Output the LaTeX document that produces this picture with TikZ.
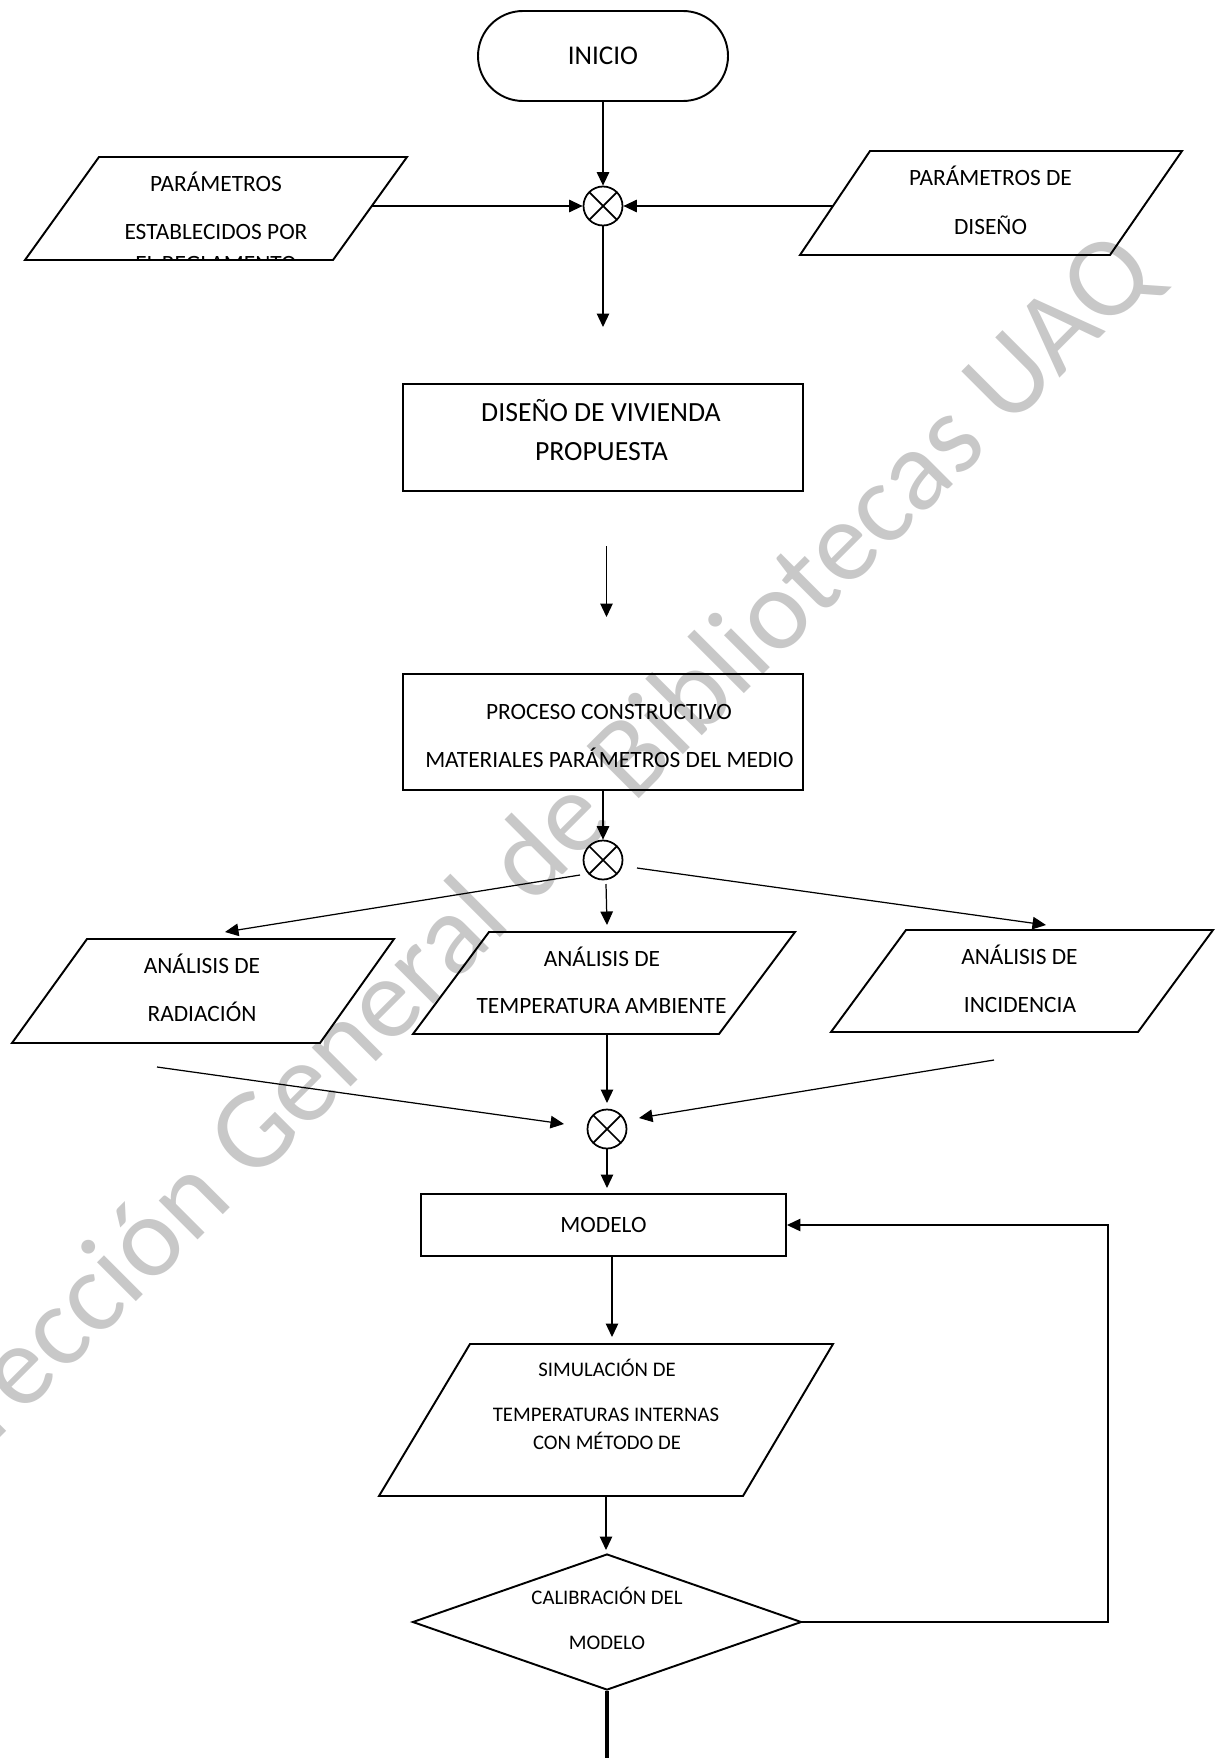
\documentclass[tikz,border=0pt]{standalone}
\usepackage{fontspec}
\setmainfont{Carlito}
\usetikzlibrary{arrows.meta, shapes.geometric}
\definecolor{wmgray}{RGB}{200,200,200}
\tikzset{
  box/.style={draw, line width=1.1pt, inner sep=0pt},
  outline/.style={line width=1.1pt},
  sumnode/.style={draw, circle, line width=1pt, minimum size=0.78cm, inner sep=0pt,
    path picture={\draw[line width=1pt] (path picture bounding box.north west) -- (path picture bounding box.south east)
      (path picture bounding box.north east) -- (path picture bounding box.south west);}},
  flow/.style={line width=0.7pt, -{Triangle[length=0.27cm,width=0.25cm]}},
  txt/.style={inner sep=0pt, font=\fontsize{13.3}{16}\selectfont, text height=8.6pt, text depth=0pt},
  txtsm/.style={inner sep=0pt, font=\fontsize{11.8}{14}\selectfont, text height=7.6pt, text depth=0pt},
  txtbig/.style={inner sep=0pt, font=\fontsize{15.8}{19}\selectfont, text height=10.2pt, text depth=0pt},
  wmark/.style={text=wmgray, inner sep=0pt, font=\fontsize{65.5}{78}\selectfont},
}

\begin{document}
\begin{tikzpicture}
\useasboundingbox (0,0) rectangle (24.56,-35.16);
\begin{scope}
\clip (0,0) rectangle (24.56,-35.16);
\node[wmark, rotate=45, anchor=base] (marca) at (10.86,-17.9) {Dirección General de Bibliotecas UAQ};
\end{scope}

\node[box, rounded corners=0.9cm, minimum width=5cm, minimum height=1.8cm, font=\fontsize{15.4}{18}\selectfont, text height=9.9pt, text depth=0pt] (inicio) at (12.06,-1.12) {INICIO};
\node[sumnode] (sum1) at (12.06,-4.12) {};
\draw[flow] (inicio) -- (sum1);

\draw[outline] (1.98,-3.14) -- (8.14,-3.14) -- (6.66,-5.2) -- (0.5,-5.2) -- cycle;
\begin{scope}
\clip (1.98,-3.14) -- (8.14,-3.14) -- (6.66,-5.2) -- (0.5,-5.2) -- cycle;
\node[txt] (regA) at (4.32,-3.68) {PARÁMETROS};
\node[txt] (regB) at (4.32,-4.64) {ESTABLECIDOS POR};
\node[txt] (regC) at (4.32,-5.28) {EL REGLAMENTO};
\end{scope}
\coordinate (regout) at (7.44,-4.12);
\draw[flow] (regout) -- (sum1);

\draw[outline] (17.4,-3.02) -- (23.64,-3.02) -- (22.2,-5.1) -- (16.0,-5.1) -- cycle;
\node[txt] (disA) at (19.81,-3.56) {PARÁMETROS DE};
\node[txt] (disB) at (19.81,-4.54) {DISEÑO};
\coordinate (disout) at (16.66,-4.12);
\draw[flow] (disout) -- (sum1);

\coordinate (fin1) at (12.06,-6.54);
\draw[flow] (sum1) -- (fin1);

\node[box, minimum width=8cm, minimum height=2.14cm] (vivienda) at (12.06,-8.75) {};
\node[txtbig] (vivA) at (12.02,-8.26) {DISEÑO DE VIVIENDA};
\node[txtbig] (vivB) at (12.03,-9.04) {PROPUESTA};

\coordinate (ini2) at (12.13,-10.92);
\coordinate (fin2) at (12.13,-12.34);
\draw[flow] (ini2) -- (fin2);

\node[box, minimum width=8cm, minimum height=2.32cm] (proceso) at (12.06,-14.64) {};
\node[txt] (procA) at (12.18,-14.24) {PROCESO CONSTRUCTIVO};
\node[txt] (procB) at (12.19,-15.2) {MATERIALES PARÁMETROS DEL MEDIO};

\node[sumnode] (sum2) at (12.06,-17.2) {};
\draw[flow] (proceso) -- (sum2);

\coordinate (s2a) at (11.6,-17.5);
\coordinate (radin) at (4.5,-18.64);
\coordinate (s2b) at (12.12,-17.68);
\coordinate (tempin) at (12.14,-18.5);
\coordinate (s2c) at (12.74,-17.36);
\coordinate (incin) at (20.92,-18.5);
\draw[flow] (s2a) -- (radin);
\draw[flow] (s2b) -- (tempin);
\draw[flow] (s2c) -- (incin);

\draw[outline] (1.74,-18.78) -- (7.88,-18.78) -- (6.4,-20.86) -- (0.24,-20.86) -- cycle;
\node[txt] (radA) at (4.04,-19.32) {ANÁLISIS DE};
\node[txt] (radB) at (4.04,-20.28) {RADIACIÓN};

\draw[outline] (9.78,-18.64) -- (15.9,-18.64) -- (14.38,-20.68) -- (8.26,-20.68) -- cycle;
\node[txt] (tempA) at (12.04,-19.18) {ANÁLISIS DE};
\node[txt] (tempB) at (12.03,-20.12) {TEMPERATURA AMBIENTE};

\draw[outline] (18.12,-18.6) -- (24.26,-18.6) -- (22.76,-20.64) -- (16.62,-20.64) -- cycle;
\node[txt] (incA) at (20.39,-19.14) {ANÁLISIS DE};
\node[txt] (incB) at (20.4,-20.1) {INCIDENCIA};

\node[sumnode] (sum3) at (12.14,-22.58) {};
\coordinate (radout) at (3.14,-21.34);
\coordinate (s3a) at (11.28,-22.48);
\coordinate (tempout) at (12.14,-20.68);
\coordinate (s3b) at (12.14,-22.06);
\coordinate (incout) at (19.88,-21.2);
\coordinate (s3c) at (12.78,-22.36);
\draw[flow] (radout) -- (s3a);
\draw[flow] (tempout) -- (s3b);
\draw[flow] (incout) -- (s3c);

\coordinate (modin) at (12.14,-23.76);
\draw[flow] (sum3) -- (modin);

\node[box, minimum width=7.3cm, minimum height=1.24cm, font=\fontsize{13.3}{16}\selectfont, text height=8.6pt, text depth=0pt] (modelo) at (12.07,-24.5) {MODELO};

\coordinate (modout) at (12.24,-25.12);
\coordinate (simin) at (12.24,-26.74);
\draw[flow] (modout) -- (simin);

\draw[outline] (9.4,-26.88) -- (16.66,-26.88) -- (14.86,-29.92) -- (7.58,-29.92) -- cycle;
\node[txtsm] (simA) at (12.14,-27.4) {SIMULACIÓN DE};
\node[txtsm] (simB) at (12.12,-28.3) {TEMPERATURAS INTERNAS};
\node[txtsm] (simC) at (12.14,-28.86) {CON MÉTODO DE};

\coordinate (simout) at (12.12,-29.92);
\coordinate (calin) at (12.12,-31.0);
\draw[flow] (simout) -- (calin);

\node[box, diamond, minimum width=7.78cm, minimum height=2.72cm] (calib) at (12.14,-32.44) {};
\node[txtsm] (calA) at (12.14,-31.96) {CALIBRACIÓN DEL};
\node[txtsm] (calB) at (12.14,-32.86) {MODELO};

\coordinate (salida) at (12.14,-35.3);
\draw[line width=2.6pt] (calib.south) -- (salida);

\coordinate (vuelta) at (22.16,-32.44);
\draw[flow] (calib.east) -- (vuelta) |- (modelo.east);
\end{tikzpicture}
\end{document}
